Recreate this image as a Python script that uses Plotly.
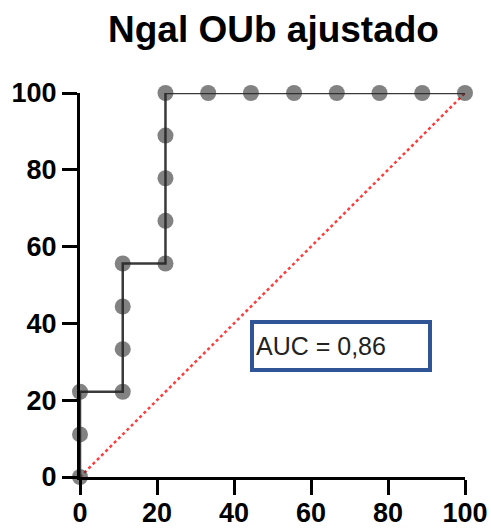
import plotly.graph_objects as go

# ROC data (100 - specificity %, sensitivity %)
fpr = [0, 0, 0, 11.1, 11.1, 11.1, 11.1, 22.2, 22.2, 22.2, 22.2, 22.2,
       33.3, 44.4, 55.6, 66.7, 77.8, 88.9, 100]
tpr = [0, 11.1, 22.2, 22.2, 33.3, 44.4, 55.6, 55.6, 66.7, 77.8, 88.9, 100,
       100, 100, 100, 100, 100, 100, 100]
diag_x = [0, 100]
diag_y = [0, 100]
tick_vals = [0, 20, 40, 60, 80, 100]
title_text = "Ngal OUb ajustado"
auc_text = "AUC = 0,86"

fig = go.Figure()
fig.add_trace(go.Scatter(
    x=diag_x, y=diag_y, mode="lines",
    line=dict(color="#ff3b3b", width=2.5, dash="dot"),
    hoverinfo="skip", cliponaxis=False))
fig.add_trace(go.Scatter(
    x=fpr, y=tpr, mode="lines+markers",
    line=dict(color="#3a3a3a", width=2.5),
    marker=dict(size=16, color="rgba(40,40,40,0.58)", line=dict(width=0)),
    cliponaxis=False))

axis_common = dict(
    range=[0, 100], tickvals=tick_vals, showgrid=False, zeroline=False,
    showline=True, linecolor="black", linewidth=3, automargin=False,
    ticks="outside", ticklen=15, tickwidth=3, tickcolor="black",
    tickfont=dict(family="Liberation Sans, Arial", size=27, color="black", weight="bold"),
)
fig.update_xaxes(**axis_common, ticklabelstandoff=-5)
fig.update_yaxes(**axis_common)

fig.update_layout(
    width=491, height=529,
    margin=dict(l=80, r=26, t=93, b=52),
    plot_bgcolor="white", paper_bgcolor="white",
    showlegend=False,
    title=dict(text=title_text, x=0.557, xanchor="center", y=0.945, yanchor="middle",
               font=dict(family="Liberation Sans, Arial", size=37, color="black", weight="bold")),
    annotations=[dict(
        x=67.8, y=34, xref="x", yref="y", text=auc_text, showarrow=False,
        font=dict(family="Liberation Sans, Arial", size=25, color="#222222"),
        align="left", width=170, height=40, borderpad=2,
        bordercolor="#2f5597", borderwidth=4, bgcolor="white")],
)

fig.write_html("out.html")
